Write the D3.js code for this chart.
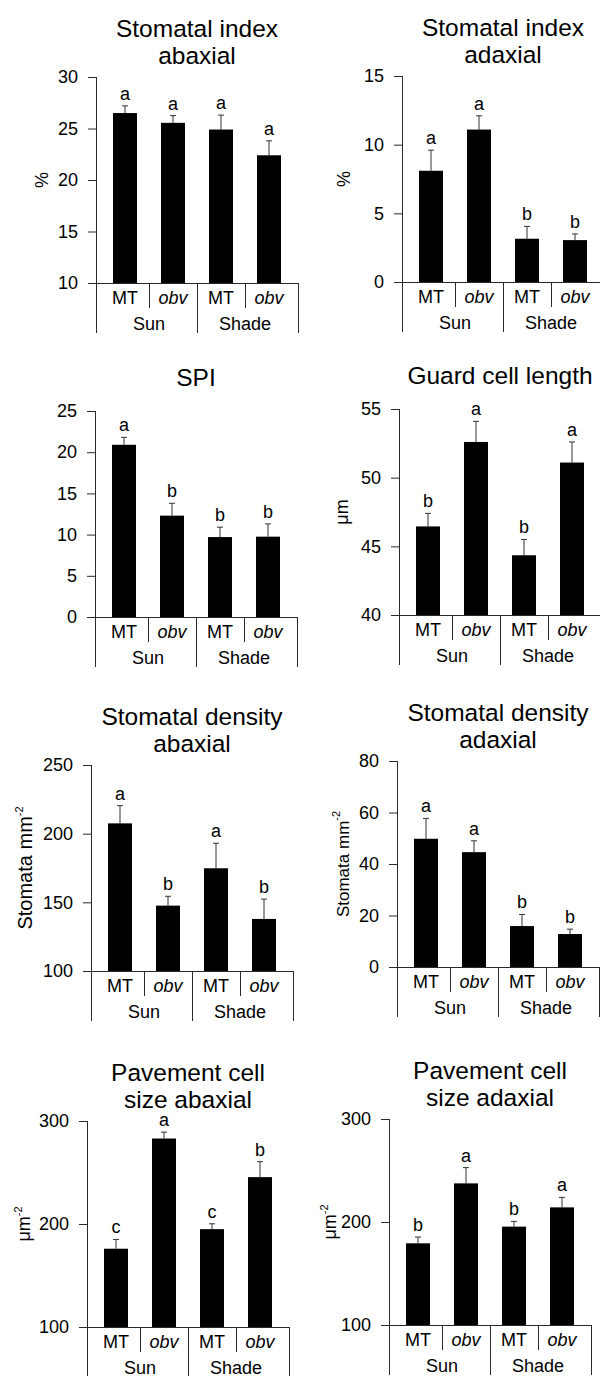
<!DOCTYPE html>
<html>
<head>
<meta charset="utf-8">
<script src="https://cdn.jsdelivr.net/npm/d3@7"></script>
<style>
body { margin: 0; background: #fff; }
svg { display: block; font-family: "Liberation Sans", Arial, sans-serif; }
</style>
</head>
<body>
<svg id="chart" width="600" height="1376"></svg>
<script>
// categories
var conditions = ["Sun MT", "Sun obv", "Shade MT", "Shade obv"];
var genotypes = ["MT", "obv", "MT", "obv"];
var lights = ["Sun", "Shade"];

// one entry per panel, read left to right, top to bottom
var titles = [
  ["Stomatal index", "abaxial"],
  ["Stomatal index", "adaxial"],
  ["SPI"],
  ["Guard cell length"],
  ["Stomatal density", "abaxial"],
  ["Stomatal density", "adaxial"],
  ["Pavement cell", "size abaxial"],
  ["Pavement cell", "size adaxial"]
];
var yLabels = ["%", "%", "", "μm", "Stomata mm", "Stomata mm", "μm", "μm"];
var ySups = ["", "", "", "", "-2", "-2", "-2", "-2"];
var yDomains = [[10, 30], [0, 15], [0, 25], [40, 55], [100, 250], [0, 80], [100, 300], [100, 300]];
var yTicks = [
  [10, 15, 20, 25, 30],
  [0, 5, 10, 15],
  [0, 5, 10, 15, 20, 25],
  [40, 45, 50, 55],
  [100, 150, 200, 250],
  [0, 20, 40, 60, 80],
  [100, 200, 300],
  [100, 200, 300]
];
var means = [
  [26.5, 25.55, 24.9, 22.4],
  [8.1, 11.1, 3.15, 3.05],
  [20.9, 12.3, 9.7, 9.75],
  [46.45, 52.6, 44.35, 51.1],
  [207.5, 147.6, 174.8, 137.9],
  [49.8, 44.6, 15.9, 12.8],
  [176, 283, 195, 245.5],
  [179.3, 237.5, 195.5, 214.2]
];
var errors = [
  [0.7, 0.7, 1.4, 1.4],
  [1.5, 1.0, 0.9, 0.45],
  [0.9, 1.5, 1.2, 1.55],
  [0.95, 1.5, 1.15, 1.5],
  [12.9, 6.8, 18.2, 14.5],
  [7.9, 4.4, 4.5, 1.9],
  [9, 6.2, 5.2, 15],
  [6.1, 15.3, 5.1, 9.7]
];
var letters = [
  ["a", "a", "a", "a"],
  ["a", "a", "b", "b"],
  ["a", "b", "b", "b"],
  ["b", "a", "b", "a"],
  ["a", "b", "a", "b"],
  ["a", "a", "b", "b"],
  ["c", "a", "c", "b"],
  ["b", "a", "b", "a"]
];

// where each panel sits: left axis x, plot top, y label offset and size
var layout = [
  {x: 96, y: 77, lx: -54, ls: 18},
  {x: 402, y: 76, lx: -58, ls: 18},
  {x: 95, y: 411, lx: -56, ls: 18},
  {x: 399, y: 409, lx: -57, ls: 18},
  {x: 91, y: 765, lx: -66, ls: 20},
  {x: 397, y: 761, lx: -54, ls: 17},
  {x: 87, y: 1121, lx: -63, ls: 18},
  {x: 389, y: 1119, lx: -59, ls: 18}
];

var W = 202, H = 206;
var ink = "#000", axisCol = "#2a2a2a";
var svg = d3.select("#chart");

titles.forEach(function (t, i) { panel(i); });

function panel(i) {
  var L = layout[i];
  var g = svg.append("g").attr("transform", "translate(" + L.x + "," + L.y + ")");

  var x = d3.scaleBand().domain(conditions).range([5, 197]).paddingInner(0.5).paddingOuter(0.25);
  var y = d3.scaleLinear().domain(yDomains[i]).range([H, 0]);
  var bw = x.bandwidth();
  var rows = conditions.map(function (c, k) {
    return {c: c, m: means[i][k], e: errors[i][k], l: letters[i][k]};
  });

  // title
  var lines = titles[i];
  g.append("text")
    .attr("text-anchor", "middle")
    .attr("font-size", 24.5)
    .attr("fill", ink)
    .selectAll("tspan")
    .data(lines)
    .join("tspan")
      .attr("x", W / 2)
      .attr("y", function (d, k) { return lines.length == 1 ? -25 : -40 + k * 27; })
      .text(function (d) { return d; });

  // error bars (upper only)
  var eb = g.append("g").attr("stroke", "#333").attr("stroke-width", 1);
  rows.forEach(function (d) {
    var cx = x(d.c) + bw / 2;
    eb.append("line").attr("x1", cx).attr("x2", cx).attr("y1", y(d.m)).attr("y2", y(d.m + d.e));
    eb.append("line").attr("x1", cx - 3).attr("x2", cx + 3).attr("y1", y(d.m + d.e)).attr("y2", y(d.m + d.e));
  });

  // bars
  g.selectAll("rect.bar")
    .data(rows)
    .join("rect")
      .attr("class", "bar")
      .attr("x", function (d) { return x(d.c); })
      .attr("width", bw)
      .attr("y", function (d) { return y(d.m); })
      .attr("height", function (d) { return H - y(d.m); })
      .attr("fill", ink);

  // significance letters
  g.selectAll("text.sig")
    .data(rows)
    .join("text")
      .attr("class", "sig")
      .attr("text-anchor", "middle")
      .attr("font-size", 18)
      .attr("x", function (d) { return x(d.c) + bw / 2; })
      .attr("y", function (d) { return y(d.m + d.e) - 6; })
      .text(function (d) { return d.l; });

  // y axis
  var ax = g.append("g")
    .call(d3.axisLeft(y).tickValues(yTicks[i]).tickSize(8).tickPadding(10).tickSizeOuter(0));
  ax.select(".domain").remove();
  ax.selectAll(".tick line").attr("stroke", axisCol);
  ax.selectAll(".tick text").attr("font-size", 18).attr("font-family", null).attr("fill", ink);

  var fr = g.append("g").attr("stroke", axisCol).attr("stroke-width", 1).attr("shape-rendering", "crispEdges");
  fr.append("line").attr("x1", 0).attr("x2", 0).attr("y1", 0).attr("y2", H + 50);
  fr.append("line").attr("x1", 0).attr("x2", W).attr("y1", H).attr("y2", H);
  fr.append("line").attr("x1", W).attr("x2", W).attr("y1", H).attr("y2", H + 50);

  // dividers between categories
  var mids = [];
  for (var k = 0; k < conditions.length - 1; k++) {
    var m = (x(conditions[k]) + x(conditions[k + 1])) / 2 + bw / 2;
    mids.push(m);
    fr.append("line").attr("x1", m).attr("x2", m).attr("y1", H).attr("y2", H + (k == 1 ? 50 : 25));
  }

  // category labels
  g.selectAll("text.geno")
    .data(genotypes)
    .join("text")
      .attr("class", "geno")
      .attr("text-anchor", "middle")
      .attr("font-size", 18)
      .attr("font-style", function (d) { return d == "obv" ? "italic" : null; })
      .attr("x", function (d, k) { return x(conditions[k]) + bw / 2; })
      .attr("y", H + 21)
      .text(function (d) { return d; });

  g.selectAll("text.light")
    .data(lights)
    .join("text")
      .attr("class", "light")
      .attr("text-anchor", "middle")
      .attr("font-size", 18)
      .attr("x", function (d, k) { return mids[k * 2]; })
      .attr("y", H + 47)
      .text(function (d) { return d; });

  // y label
  if (yLabels[i]) {
    var lab = g.append("text")
      .attr("transform", "translate(" + L.lx + "," + (H / 2) + ") rotate(-90)")
      .attr("text-anchor", "middle")
      .attr("dy", "0.35em")
      .attr("font-size", L.ls)
      .attr("fill", ink);
    lab.append("tspan").text(yLabels[i]);
    if (ySups[i]) {
      lab.append("tspan").attr("font-size", 11).attr("dy", "-0.8em").text(ySups[i]);
    }
  }
}
</script>
</body>
</html>
